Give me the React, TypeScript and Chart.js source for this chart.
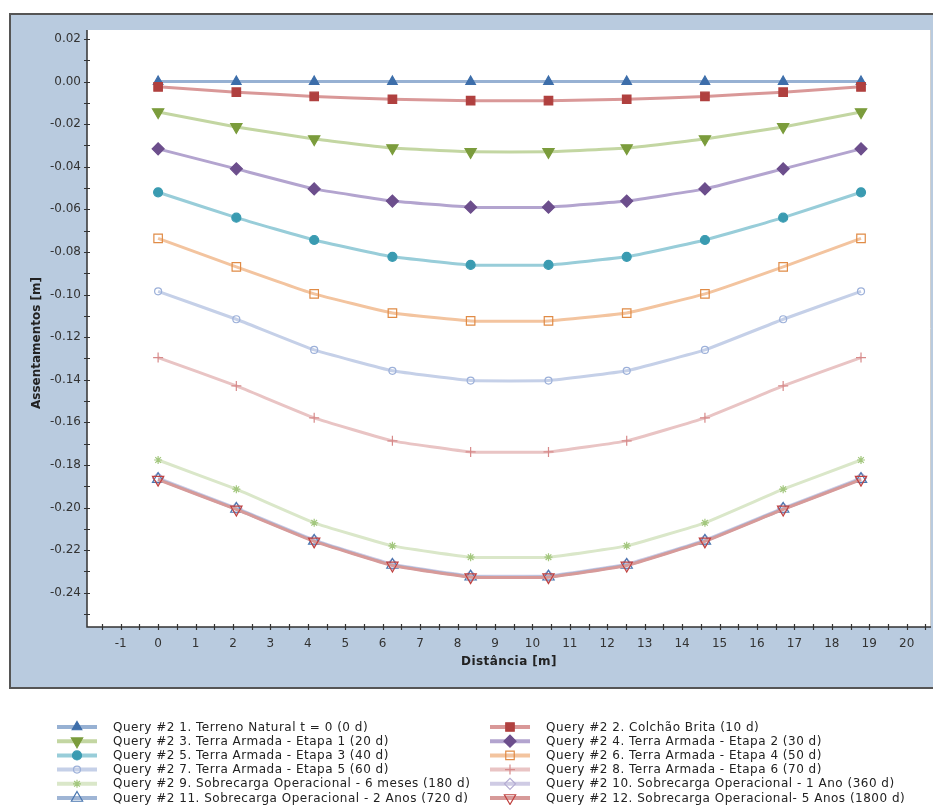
import React, { useEffect, useRef } from "react";
import { Chart, registerables } from "chart.js";
import { drawPoint } from "chart.js/helpers";

Chart.register(...registerables);

// ---------- DATA ----------
const distances = [0, 2.09, 4.17, 6.26, 8.35, 10.43, 12.52, 14.61, 16.7, 18.78];

const seriesNames = [
  "Query #2 1. Terreno Natural t = 0 (0 d)",
  "Query #2 2. Colchão Brita (10 d)",
  "Query #2 3. Terra Armada - Etapa 1 (20 d)",
  "Query #2 4. Terra Armada - Etapa 2 (30 d)",
  "Query #2 5. Terra Armada - Etapa 3 (40 d)",
  "Query #2 6. Terra Armada - Etapa 4 (50 d)",
  "Query #2 7. Terra Armada - Etapa 5 (60 d)",
  "Query #2 8. Terra Armada - Etapa 6 (70 d)",
  "Query #2 9. Sobrecarga Operacional - 6 meses (180 d)",
  "Query #2 10. Sobrecarga Operacional - 1 Ano (360 d)",
  "Query #2 11. Sobrecarga Operacional - 2 Anos (720 d)",
  "Query #2 12. Sobrecarga Operacional- 5 Anos (1800 d)",
];

const s01 = [0, 0, 0, 0, 0, 0, 0, 0, 0, 0];
const s02 = [-0.0025, -0.005, -0.007, -0.0083, -0.009, -0.009, -0.0083, -0.007, -0.005, -0.0025];
const s03 = [-0.0143, -0.0213, -0.027, -0.0312, -0.033, -0.033, -0.0312, -0.027, -0.0213, -0.0143];
const s04 = [-0.0316, -0.041, -0.0504, -0.0561, -0.059, -0.059, -0.0561, -0.0504, -0.041, -0.0316];
const s05 = [-0.052, -0.0639, -0.0744, -0.0823, -0.0861, -0.0861, -0.0823, -0.0744, -0.0639, -0.052];
const s06 = [-0.0736, -0.087, -0.0997, -0.1087, -0.1124, -0.1124, -0.1087, -0.0997, -0.087, -0.0736];
const s07 = [-0.0985, -0.1116, -0.126, -0.1358, -0.1404, -0.1404, -0.1358, -0.126, -0.1116, -0.0985];
const s08 = [-0.1296, -0.1429, -0.1579, -0.1687, -0.1739, -0.1739, -0.1687, -0.1579, -0.1429, -0.1296];
const s09 = [-0.1777, -0.1914, -0.2072, -0.218, -0.2233, -0.2233, -0.218, -0.2072, -0.1914, -0.1777];
const s10 = [-0.1862, -0.2003, -0.2153, -0.2266, -0.2321, -0.2321, -0.2266, -0.2153, -0.2003, -0.1862];
const s11 = [-0.1867, -0.2007, -0.2157, -0.227, -0.2325, -0.2325, -0.227, -0.2157, -0.2007, -0.1867];
const s12 = [-0.1869, -0.2009, -0.2159, -0.2272, -0.2327, -0.2327, -0.2272, -0.2159, -0.2009, -0.1869];

const seriesValues = [s01, s02, s03, s04, s05, s06, s07, s08, s09, s10, s11, s12];

const yTickValues = [0.02, 0, -0.02, -0.04, -0.06, -0.08, -0.1, -0.12, -0.14, -0.16, -0.18, -0.2, -0.22, -0.24];
const xTickValues = [-1, 0, 1, 2, 3, 4, 5, 6, 7, 8, 9, 10, 11, 12, 13, 14, 15, 16, 17, 18, 19, 20];

const xTitle = "Distância [m]";
const yTitle = "Assentamentos [m]";

// ---------- STYLES ----------
type Sty = { line: string; mark: string; style: string; filled: boolean; rot: number; r: number };
const styles: Sty[] = [
  { line: "#97b1d3", mark: "#3d6eaa", style: "triangle", filled: true, rot: 0, r: 5.5 },
  { line: "#d99898", mark: "#b0403f", style: "rect", filled: true, rot: 0, r: 6 },
  { line: "#c3d6a2", mark: "#7b9c3c", style: "triangle", filled: true, rot: 180, r: 6.5 },
  { line: "#b3a4cf", mark: "#6c4e8c", style: "rectRot", filled: true, rot: 0, r: 6 },
  { line: "#98cdd9", mark: "#3a9bb1", style: "circle", filled: true, rot: 0, r: 4.5 },
  { line: "#f3c49f", mark: "#e08b46", style: "rect", filled: false, rot: 0, r: 6 },
  { line: "#c5d0e8", mark: "#9cb0d9", style: "circle", filled: false, rot: 0, r: 3.5 },
  { line: "#e9c4c4", mark: "#d78a8a", style: "cross", filled: false, rot: 0, r: 5 },
  { line: "#dae7c9", mark: "#a3c77e", style: "star", filled: false, rot: 0, r: 4 },
  { line: "#cfcbe4", mark: "#b3abd1", style: "rectRot", filled: false, rot: 0, r: 5.5 },
  { line: "#9fb5d5", mark: "#4a77b0", style: "triangle", filled: false, rot: 0, r: 6.5 },
  { line: "#d79a99", mark: "#c0413f", style: "triangle", filled: false, rot: 180, r: 6.5 },
];

const FONT = "'DejaVu Sans', Verdana, sans-serif";

const decorPlugin = {
  id: "decor",
  beforeDraw(chart: any) {
    const ctx = chart.ctx;
    const a = chart.chartArea;
    ctx.save();
    ctx.fillStyle = "#ffffff";
    ctx.fillRect(0, 0, chart.width, chart.height);
    ctx.fillStyle = "#b9cbdf";
    ctx.fillRect(10, 14, chart.width + 20, 674);
    ctx.strokeStyle = "#555555";
    ctx.lineWidth = 2;
    ctx.strokeRect(10, 14, chart.width + 20, 674);
    ctx.fillStyle = "#ffffff";
    ctx.fillRect(a.left, a.top, a.right - a.left, a.bottom - a.top);
    ctx.strokeStyle = "#d0d0d0";
    ctx.lineWidth = 1;
    ctx.beginPath();
    ctx.moveTo(a.right - 0.5, a.top);
    ctx.lineTo(a.right - 0.5, a.bottom);
    ctx.stroke();
    ctx.restore();
  },
  afterDraw(chart: any) {
    const ctx = chart.ctx;
    const a = chart.chartArea;
    const xs = chart.scales.x;
    const ys = chart.scales.y;
    ctx.save();
    // axes
    ctx.strokeStyle = "#333333";
    ctx.lineWidth = 1.5;
    ctx.beginPath();
    ctx.moveTo(a.left, a.top);
    ctx.lineTo(a.left, a.bottom);
    ctx.lineTo(a.right, a.bottom);
    ctx.stroke();
    ctx.lineWidth = 1.2;
    ctx.beginPath();
    for (let k = 2; k >= -25; k--) {
      const y = Math.round(ys.getPixelForValue(k / 100)) + 0.5;
      ctx.moveTo(a.left - 3, y);
      ctx.lineTo(a.left + 3, y);
    }
    for (let k = -3; k <= 41; k++) {
      const x = Math.round(xs.getPixelForValue(k / 2)) + 0.5;
      ctx.moveTo(x, a.bottom - 3);
      ctx.lineTo(x, a.bottom + 3);
    }
    ctx.stroke();

    // titles
    ctx.fillStyle = "#222222";
    ctx.font = "bold 12px " + FONT;
    ctx.textAlign = "center";
    ctx.textBaseline = "middle";
    try { (ctx as any).letterSpacing = "0.4px"; } catch (e) {}
    ctx.fillText(xTitle, (a.left + a.right) / 2, 662);
    try { (ctx as any).letterSpacing = "0px"; } catch (e) {}
    ctx.save();
    ctx.translate(37, 343);
    ctx.rotate(-Math.PI / 2);
    ctx.fillText(yTitle, 0, 0);
    ctx.restore();

    // legend
    ctx.font = "12px " + FONT;
    ctx.textAlign = "left";
    try { (ctx as any).letterSpacing = "0.5px"; } catch (e) {}
    for (let i = 0; i < seriesNames.length; i++) {
      const col = i % 2;
      const row = Math.floor(i / 2);
      const y = 727 + row * 14.2;
      const x0 = col === 0 ? 57 : 490;
      const st = styles[i];
      ctx.strokeStyle = st.line;
      ctx.lineWidth = 4;
      ctx.beginPath();
      ctx.moveTo(x0, y);
      ctx.lineTo(x0 + 40, y);
      ctx.stroke();
      ctx.fillStyle = st.filled ? st.mark : "rgba(0,0,0,0)";
      ctx.strokeStyle = st.mark;
      ctx.lineWidth = 1.2;
      drawPoint(ctx, { pointStyle: st.style, radius: st.r, rotation: st.rot, borderWidth: 1.2 } as any, x0 + 20, y);
      ctx.fillStyle = "#222222";
      ctx.fillText(seriesNames[i], x0 + 56, y + 0.5);
    }
    try { (ctx as any).letterSpacing = "0px"; } catch (e) {}
    ctx.restore();
  },
};

export default function App() {
  const ref = useRef<HTMLCanvasElement | null>(null);
  useEffect(() => {
    if (!ref.current) return;
    const n = seriesValues.length;
    const datasets = seriesValues.map((vals, i) => {
      const st = styles[i];
      return {
        label: seriesNames[i],
        data: vals.map((v, j) => ({ x: distances[j], y: v })),
        borderColor: st.line,
        borderWidth: 3,
        pointStyle: st.style,
        pointRotation: st.rot,
        pointRadius: st.r,
        pointBackgroundColor: st.filled ? st.mark : "rgba(0,0,0,0)",
        pointBorderColor: st.mark,
        pointBorderWidth: 1.2,
        tension: 0.1,
        order: n - i,
        fill: false,
      };
    });
    const chart = new Chart(ref.current, {
      type: "line",
      data: { datasets },
      options: {
        animation: false,
        responsive: false,
        maintainAspectRatio: false,
        layout: { autoPadding: false, padding: { left: 0, top: 30, right: 2, bottom: 117 } },
        plugins: { legend: { display: false }, tooltip: { enabled: false } },
        scales: {
          x: {
            type: "linear",
            min: -1.9,
            max: 20.65,
            grid: { display: false, drawTicks: false },
            border: { display: false },
            afterBuildTicks: (s: any) => {
              s.ticks = xTickValues.map((v) => ({ value: v }));
            },
            afterFit: (s: any) => {
              s.height = 61;
              s.paddingLeft = 0;
              s.paddingRight = 0;
            },
            ticks: {
              autoSkip: false,
              maxRotation: 0,
              padding: 10,
              color: "#333333",
              font: { family: FONT, size: 12 },
              callback: (v: any) => String(v),
            },
          },
          y: {
            type: "linear",
            min: -0.2561,
            max: 0.0242,
            grid: { display: false, drawTicks: false },
            border: { display: false },
            afterBuildTicks: (s: any) => {
              s.ticks = yTickValues.map((v) => ({ value: v }));
            },
            afterFit: (s: any) => {
              s.width = 87;
              s.paddingTop = 0;
              s.paddingBottom = 0;
            },
            ticks: {
              autoSkip: false,
              padding: 6,
              color: "#333333",
              font: { family: FONT, size: 12 },
              callback: (v: any) => Number(v).toFixed(2),
            },
          },
        },
      },
      plugins: [decorPlugin],
    } as any);
    return () => chart.destroy();
  }, []);
  return (
    <div style={{ position: "absolute", left: 0, top: 0, width: 933, height: 805, background: "#fff" }}>
      <canvas ref={ref} width={933} height={805} style={{ display: "block", width: 933, height: 805 }} />
    </div>
  );
}
